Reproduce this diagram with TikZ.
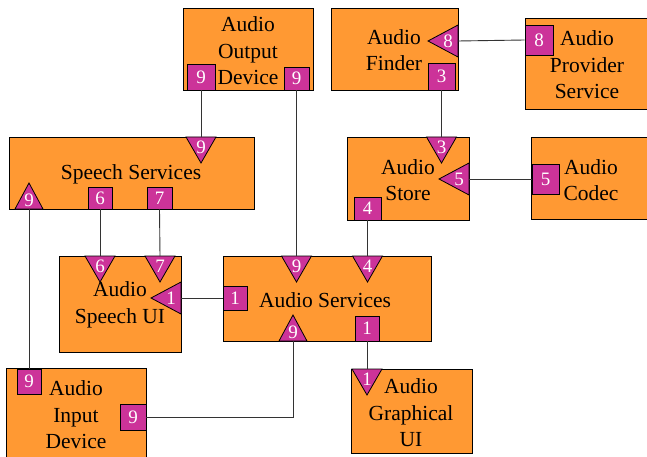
\documentclass[tikz,border=0pt]{standalone}
\usepackage{fontspec}
\setmainfont{Liberation Serif}
\definecolor{boxfill}{HTML}{FF9933}
\definecolor{portfill}{HTML}{CC3399}
\definecolor{wire}{HTML}{333333}
\tikzset{
  block/.style={draw=black, fill=boxfill, line width=0.9pt, anchor=north west, inner sep=0pt},
  caption/.style={align=center, font=\fontsize{21.5}{26.5}\selectfont, inner sep=0pt},
  sqport/.style={draw=black, fill=portfill, line width=0.8pt, minimum width=25pt, minimum height=24pt,
                 inner sep=0pt, text=white, font=\fontsize{19}{19}\selectfont},
  triport/.style={draw=black, fill=portfill, line width=0.8pt, line join=miter},
  tlabel/.style={text=white, font=\fontsize{19}{19}\selectfont, inner sep=0pt},
  link/.style={draw=wire, line width=0.9pt},
}
% triangular ports: name, x, y of the base midpoint, label
\newcommand\pdown[4]{%
  \coordinate (#1) at (#2,#3);
  \path[triport] (#2-15,#3) -- (#2+15,#3) -- (#2,#3+26) -- cycle;
  \node[tlabel] (#1-l) at (#2,#3+10) {#4};}
\newcommand\pup[4]{%
  \coordinate (#1) at (#2,#3);
  \path[triport] (#2-14,#3) -- (#2+14,#3) -- (#2,#3-26) -- cycle;
  \node[tlabel] (#1-l) at (#2,#3-9) {#4};}
\newcommand\pleft[4]{%
  \coordinate (#1) at (#2,#3);
  \path[triport] (#2,#3-16) -- (#2,#3+16) -- (#2-30,#3) -- cycle;
  \node[tlabel] (#1-l) at (#2-10,#3) {#4};}
\begin{document}
\begin{tikzpicture}[x=1pt,y=-1pt]
\useasboundingbox (0,0) rectangle (647,457);

% components
\node[block, minimum width=130pt, minimum height=82pt] (aod) at (183,8) {};
\node[block, minimum width=245pt, minimum height=72pt] (ss) at (9,137) {};
\node[block, minimum width=127pt, minimum height=82pt] (afind) at (331,8) {};
\node[block, minimum width=124pt, minimum height=91pt] (aps) at (525,18) {};
\node[block, minimum width=122pt, minimum height=83pt] (astore) at (347,137) {};
\node[block, minimum width=120pt, minimum height=82pt] (acodec) at (531,137) {};
\node[block, minimum width=122pt, minimum height=96pt] (asui) at (59,256) {};
\node[block, minimum width=208pt, minimum height=85pt] (asvc) at (223,256) {};
\node[block, minimum width=140pt, minimum height=95pt] (aid) at (6,368) {};
\node[block, minimum width=121pt, minimum height=84pt] (agui) at (351,369) {};

% captions
\node[caption] (aod-t) at (248,51) {Audio\\Output\\Device};
\node[caption] (ss-t) at (131,174) {Speech Services};
\node[caption] (afind-t) at (394,50) {Audio\\Finder};
\node[caption] (aps-t) at (587,65) {Audio\\Provider\\Service};
\node[caption] (astore-t) at (408,180) {Audio\\Store};
\node[caption] (acodec-t) at (591,180) {Audio\\Codec};
\node[caption] (asui-t) at (120,305) {Audio\\Speech UI};
\node[caption] (asvc-t) at (325,300) {Audio Services};
\node[caption] (aid-t) at (76,415) {Audio\\Input\\Device};
\node[caption] (agui-t) at (411,413) {Audio\\Graphical\\UI};

% square ports
\node[sqport, minimum width=28pt, minimum height=26pt] (aod-s1) at (201,77) {9};
\node[sqport, minimum height=23pt] (aod-s2) at (296.5,78.5) {9};
\node[sqport, minimum width=27pt, minimum height=27pt] (afind-s3) at (441.5,76.5) {3};
\node[sqport, minimum width=28pt, minimum height=30pt] (aps-s8) at (539,40) {8};
\node[sqport, minimum width=27pt, minimum height=23pt] (astore-s4) at (367.5,208.5) {4};
\node[sqport, minimum width=27pt, minimum height=30pt] (acodec-s5) at (545.5,179) {5};
\node[sqport, minimum width=24pt, minimum height=22pt] (ss-s6) at (100,198) {6};
\node[sqport, minimum height=22pt] (ss-s7) at (159.5,198) {7};
\node[sqport, minimum width=24pt] (asvc-s1) at (235,298) {1};
\node[sqport, minimum width=24pt, minimum height=25pt] (asvc-s1b) at (367,328.5) {1};
\node[sqport, minimum width=24pt, minimum height=25pt] (aid-s9) at (29,381.5) {9};
\node[sqport, minimum width=26pt, minimum height=26pt] (aid-s9b) at (133,417) {9};

% triangular ports
\pdown{ss-t9}{201}{137}{9}
\pup{ss-u9}{29}{209}{9}
\pleft{afind-t8}{458}{41}{8}
\pdown{astore-t3}{441.5}{137}{3}
\pleft{astore-t5}{469}{179}{5}
\pdown{asui-t6}{100}{256}{6}
\pdown{asui-t7}{160}{256}{7}
\pleft{asui-t1}{181}{298}{1}
\pdown{asvc-t9}{296.5}{256}{9}
\pdown{asvc-t4}{367.5}{256}{4}
\pup{asvc-u9}{293}{341}{9}
\pdown{agui-t1}{367}{369}{1}

% connectors
\draw[link] (aod-s1.south) -- (ss-t9);
\draw[link] (aod-s2.south) -- (asvc-t9);
\draw[link] (afind-t8) -- (aps-s8.west);
\draw[link] (afind-s3.south) -- (astore-t3);
\draw[link] (astore-t5) -- (acodec-s5.west);
\draw[link] (astore-s4.south) -- (asvc-t4);
\draw[link] (ss-s6.south) -- (asui-t6);
\draw[link] (ss-s7.south) -- (asui-t7);
\draw[link] (ss-u9) -- (aid-s9.north);
\draw[link] (asui-t1) -- (asvc-s1.west);
\draw[link] (asvc-s1b.south) -- (agui-t1);
\draw[link] (aid-s9b.east) -| (asvc-u9);
\end{tikzpicture}
\end{document}
